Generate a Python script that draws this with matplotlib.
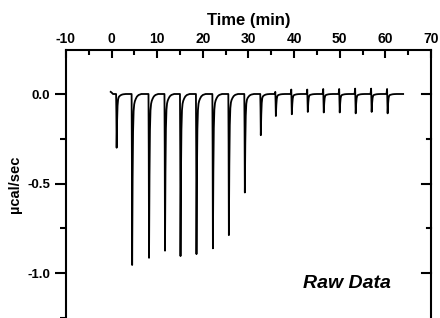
import matplotlib.pyplot as plt
import numpy as np
from matplotlib.ticker import MultipleLocator

plt.rcParams['font.family'] = ['Liberation Sans', 'DejaVu Sans']
plt.rcParams['axes.unicode_minus'] = False

# dip positions (min) and dip depths (ucal/sec)
dip_times = [1.1, 4.5, 8.2, 11.7, 15.1, 18.6, 22.2, 25.7, 29.2, 32.7,
             36.0, 39.5, 43.0, 46.5, 50.0, 53.5, 57.0, 60.5]
dip_depths = [0.30, 0.955, 0.915, 0.875, 0.905, 0.894, 0.862, 0.788, 0.55, 0.23,
              0.123, 0.113, 0.100, 0.103, 0.103, 0.108, 0.100, 0.108]
# small upward kick at each injection
kicks = [0.0, 0.0, 0.0, 0.0, 0.0, 0.0, 0.0, 0.0, 0.0, 0.0,
         0.012, 0.025, 0.025, 0.028, 0.028, 0.03, 0.03, 0.028]

# one dip, as fraction of its depth, at offsets (min) from the dip bottom
shape_dt = [-0.25, -0.12, -0.06, 0.0, 0.1, 0.2, 0.32, 0.45, 0.6, 0.8, 1.05, 1.4, 2.0]
shape_frac = [0.0, 0.0, 0.35, 1.0, 0.5, 0.22, 0.1, 0.06, 0.042, 0.028, 0.015, 0.006, 0.0]

start_time, end_time = 0.0, 63.9

t = [start_time - 0.2, start_time, start_time + 0.3]
y = [0.012, 0.008, 0.0]
for t0, d, k in zip(dip_times, dip_depths, kicks):
    for i, (dt, f) in enumerate(zip(shape_dt, shape_frac)):
        t.append(t0 + dt)
        y.append(k if i == 1 else -d * f)
t.append(end_time)
y.append(0.0)

fig = plt.figure(figsize=(4.4, 3.18), dpi=100)
ax = fig.add_axes([0.15, 0.0, 0.8295, 0.8428])
ax.plot(t, y, color='black', lw=1.3)

ax.set_xlim(-10, 70)
ax.set_ylim(-1.251, 0.2458)

ax.xaxis.tick_top()
ax.xaxis.set_label_position('top')
ax.xaxis.set_major_locator(MultipleLocator(10))
ax.xaxis.set_minor_locator(MultipleLocator(5))
ax.yaxis.set_major_locator(MultipleLocator(0.5))
ax.yaxis.set_minor_locator(MultipleLocator(0.25))
ax.yaxis.set_major_formatter(plt.FuncFormatter(lambda v, p: f'{v:.1f}'))
ax.xaxis.set_major_formatter(plt.FuncFormatter(lambda v, p: f'{v:.0f}'))

ax.tick_params(axis='x', which='both', direction='in', top=True, bottom=False,
               labelsize=10, width=1.5, pad=3)
ax.tick_params(axis='x', which='major', length=6)
ax.tick_params(axis='x', which='minor', length=3.5)
ax.tick_params(axis='y', which='both', direction='out', left=True, right=False,
               labelsize=9.5, width=1.5)
ax.tick_params(axis='y', which='major', length=8)
ax.tick_params(axis='y', which='minor', length=4)
for lab in ax.get_xticklabels() + ax.get_yticklabels():
    lab.set_fontweight('bold')

# inward ticks on the right side
for v in [0.0, -0.5, -1.0]:
    ax.plot([1 - 9 / 365, 1], [v, v], transform=ax.get_yaxis_transform(),
            color='black', lw=1.5, clip_on=False)
for v in [-0.25, -0.75]:
    ax.plot([1 - 3.5 / 365, 1], [v, v], transform=ax.get_yaxis_transform(),
            color='black', lw=1.5, clip_on=False)

for side in ['left', 'right', 'top']:
    ax.spines[side].set_linewidth(1.5)
ax.spines['bottom'].set_visible(False)

ax.set_xlabel('Time (min)', fontsize=12, fontweight='bold', labelpad=5)
ax.set_ylabel('\u00b5cal/sec', fontsize=10.5, fontweight='bold', labelpad=4)
ax.text(51.5, -1.06, 'Raw Data', fontsize=14, fontweight='bold',
        fontstyle='italic', ha='center', va='center')

fig.savefig('out.png', dpi=100)
